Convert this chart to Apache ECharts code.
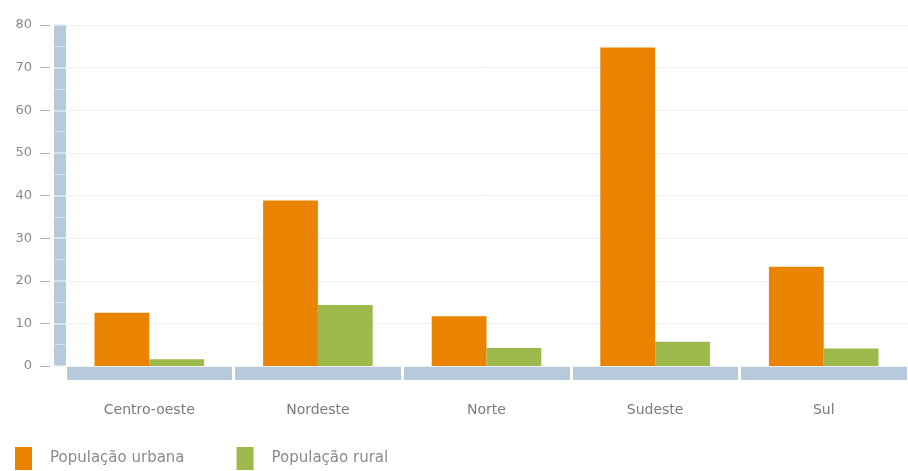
<!DOCTYPE html>
<html><head><meta charset="utf-8">
<script src="https://cdn.jsdelivr.net/npm/echarts@6/dist/echarts.min.js"></script>
<style>html,body{margin:0;padding:0;background:#fff}#c{width:908px;height:471px}</style>
</head><body><div id="c"></div>
<script>
const categories = ['Centro-oeste', 'Nordeste', 'Norte', 'Sudeste', 'Sul'];
const urbana = [12.5, 38.8, 11.7, 74.7, 23.3];
const rural = [1.6, 14.3, 4.2, 5.7, 4.1];
const seriesNames = ['População urbana', 'População rural'];
const yTicks = [0, 80, 10];

const chart = echarts.init(document.getElementById('c'));
const wall = '#b7cadb';
const font = 'DejaVu Sans, Verdana, sans-serif';
const wallTick = { show: true, length: 6, lineStyle: { color: '#e2ebf3', width: 1.5 } };
const wallMinor = { show: true, splitNumber: 2, length: 6, lineStyle: { color: '#d3e0eb', width: 1 } };
chart.setOption({
  animation: false,
  textStyle: { fontFamily: font },
  grid: { left: 65, right: -7, top: 25, bottom: 105 },
  legend: {
    left: 15, bottom: 1, padding: 0, itemWidth: 17, itemHeight: 23, itemGap: 52,
    icon: 'rect',
    textStyle: { color: '#8a8a8a', fontSize: 15, fontFamily: font, padding: [0, 0, 0, 13] },
    data: seriesNames
  },
  xAxis: [{
    type: 'category', data: categories, offset: 7,
    axisLine: { onZero: false, lineStyle: { color: wall, width: 13, cap: 'butt' } },
    axisTick: { show: true, inside: true, length: 7, lineStyle: { color: '#fff', width: 3 } },
    axisLabel: { color: '#7a7a7a', fontSize: 14, margin: 30, fontFamily: font }
  }, {
    type: 'category', data: categories, position: 'bottom', offset: 7,
    axisLine: { show: false, onZero: false },
    axisTick: { show: true, length: 7, lineStyle: { color: '#fff', width: 3 } },
    axisLabel: { show: false }
  }],
  yAxis: [{
    type: 'value', min: yTicks[0], max: yTicks[1], interval: yTicks[2], offset: 15,
    axisLine: { show: false },
    axisTick: { show: true, length: 10, lineStyle: { color: '#b5b5b5' } },
    axisLabel: { color: '#8a8a8a', fontSize: 13, margin: 18, fontFamily: font },
    splitLine: { lineStyle: { color: '#f1f1f1' } }
  }, {
    type: 'value', min: yTicks[0], max: yTicks[1], interval: yTicks[2], offset: 5, position: 'left',
    axisLine: { show: true, lineStyle: { color: wall, width: 12, cap: 'butt' } },
    axisTick: Object.assign({ inside: true }, wallTick),
    minorTick: wallMinor,
    axisLabel: { show: false }, splitLine: { show: false }
  }, {
    type: 'value', min: yTicks[0], max: yTicks[1], interval: yTicks[2], offset: 5, position: 'left',
    axisLine: { show: false },
    axisTick: Object.assign({ inside: false }, wallTick),
    minorTick: wallMinor,
    axisLabel: { show: false }, splitLine: { show: false }
  }],
  series: [
    { name: seriesNames[0], type: 'bar', data: urbana, barGap: '0%', barCategoryGap: '35%', itemStyle: { color: '#ea8400' } },
    { name: seriesNames[1], type: 'bar', data: rural, itemStyle: { color: '#9db94c' } }
  ]
});
</script></body></html>
